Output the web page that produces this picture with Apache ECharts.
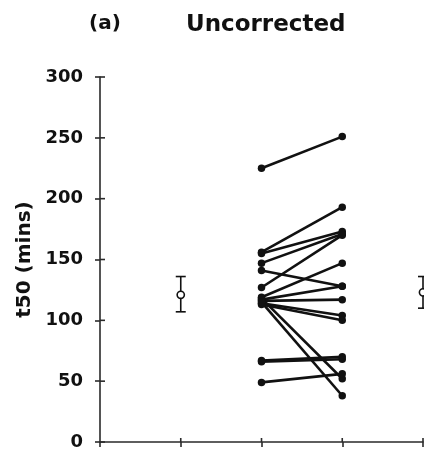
<!DOCTYPE html>
<html>
<head>
<meta charset="utf-8">
<script src="https://cdn.jsdelivr.net/npm/echarts@6/dist/echarts.min.js"></script>
<style>
  html, body { margin: 0; padding: 0; background: #fff; }
  #chart { width: 424px; height: 453px; }
</style>
</head>
<body>
<div id="chart"></div>
<script>
// Paired t50 values (mins) for each subject, first and second measurement
const before = [225, 156, 155, 147, 141, 127, 119, 117, 116, 114, 113, 118, 115, 67, 66, 49];
const after  = [251, 193, 173, 171, 128, 170, 147, 128, 117, 104, 100, 52, 38, 70, 68, 56];

// Group summaries drawn either side of the paired data: mean with error bar
const meanX    = [1, 4];
const meanVal  = [121, 123];
const meanLow  = [107, 110];
const meanHigh = [136, 136];

// x positions of the paired columns
const pairX = [2, 3];

const yTicks = [0, 50, 100, 150, 200, 250, 300];
const xTicks = [1, 2, 3, 4];

const ink = '#111';
const axisInk = '#2a2a2a';
const font = 'DejaVu Sans';

const chart = echarts.init(document.getElementById('chart'));

const series = before.map((b, i) => ({
  type: 'line',
  data: [[pairX[0], b], [pairX[1], after[i]]],
  symbol: 'circle',
  symbolSize: 7.5,
  itemStyle: { color: ink },
  lineStyle: { color: ink, width: 2.6 },
  silent: true,
  animation: false,
  z: 3
}));

// mean markers with error bars
series.push({
  type: 'custom',
  clip: false,
  animation: false,
  data: meanX.map((x, i) => [x, meanVal[i], meanLow[i], meanHigh[i]]),
  renderItem: function (params, api) {
    const c = api.coord([api.value(0), api.value(1)]);
    const lo = api.coord([api.value(0), api.value(2)]);
    const hi = api.coord([api.value(0), api.value(3)]);
    const cap = 5;
    const st = { stroke: ink, lineWidth: 1.6, fill: null };
    return {
      type: 'group',
      children: [
        { type: 'line', shape: { x1: c[0], y1: hi[1], x2: c[0], y2: lo[1] }, style: st },
        { type: 'line', shape: { x1: c[0] - cap, y1: hi[1], x2: c[0] + cap, y2: hi[1] }, style: st },
        { type: 'line', shape: { x1: c[0] - cap, y1: lo[1], x2: c[0] + cap, y2: lo[1] }, style: st },
        { type: 'circle', shape: { cx: c[0], cy: c[1], r: 3.6 }, style: { stroke: ink, lineWidth: 1.6, fill: '#fff' } }
      ]
    };
  }
});

const tickStyle = { color: axisInk, width: 1.6 };

const option = {
  backgroundColor: '#fff',
  animation: false,
  title: [
    {
      text: '(a)',
      left: 84,
      top: 9,
      textStyle: { fontFamily: font, fontWeight: 'bold', fontSize: 20, color: ink }
    },
    {
      text: 'Uncorrected',
      left: 181,
      top: 9,
      textStyle: { fontFamily: font, fontWeight: 'bold', fontSize: 23, color: ink }
    }
  ],
  grid: { left: 100, right: 1, top: 77, bottom: 11, containLabel: false },
  xAxis: {
    type: 'value',
    min: 0,
    max: 4,
    interval: 1,
    axisLine: { show: true, onZero: false, lineStyle: tickStyle },
    axisTick: { show: true, inside: false, length: 5, lineStyle: tickStyle },
    axisLabel: { show: false },
    splitLine: { show: false }
  },
  yAxis: {
    type: 'value',
    min: yTicks[0],
    max: yTicks[yTicks.length - 1],
    interval: 50,
    name: 't50 (mins)',
    nameLocation: 'middle',
    nameGap: 60,
    nameTextStyle: { fontFamily: font, fontWeight: 'bold', fontSize: 20, color: ink },
    axisLine: { show: true, onZero: false, lineStyle: tickStyle },
    axisTick: { show: true, inside: false, length: 5, lineStyle: tickStyle },
    axisLabel: {
      margin: 17,
      fontFamily: font,
      fontWeight: 'bold',
      fontSize: 18,
      color: ink,
      formatter: v => (yTicks.indexOf(v) >= 0 ? String(v) : '')
    },
    splitLine: { show: false }
  },
  series: series
};

chart.setOption(option);

// inner half of the crossing tick marks, placed from the axis scales
const innerTicks = [];
yTicks.forEach(v => {
  const p = chart.convertToPixel({ gridIndex: 0 }, [0, v]);
  innerTicks.push({
    type: 'line',
    shape: { x1: p[0], y1: p[1], x2: p[0] + 5, y2: p[1] },
    style: { stroke: axisInk, lineWidth: 1.6 },
    z: 10
  });
});
xTicks.forEach(v => {
  const p = chart.convertToPixel({ gridIndex: 0 }, [v, 0]);
  innerTicks.push({
    type: 'line',
    shape: { x1: p[0], y1: p[1], x2: p[0], y2: p[1] - 4 },
    style: { stroke: axisInk, lineWidth: 1.6 },
    z: 10
  });
});
chart.setOption({ graphic: innerTicks });
</script>
</body>
</html>
